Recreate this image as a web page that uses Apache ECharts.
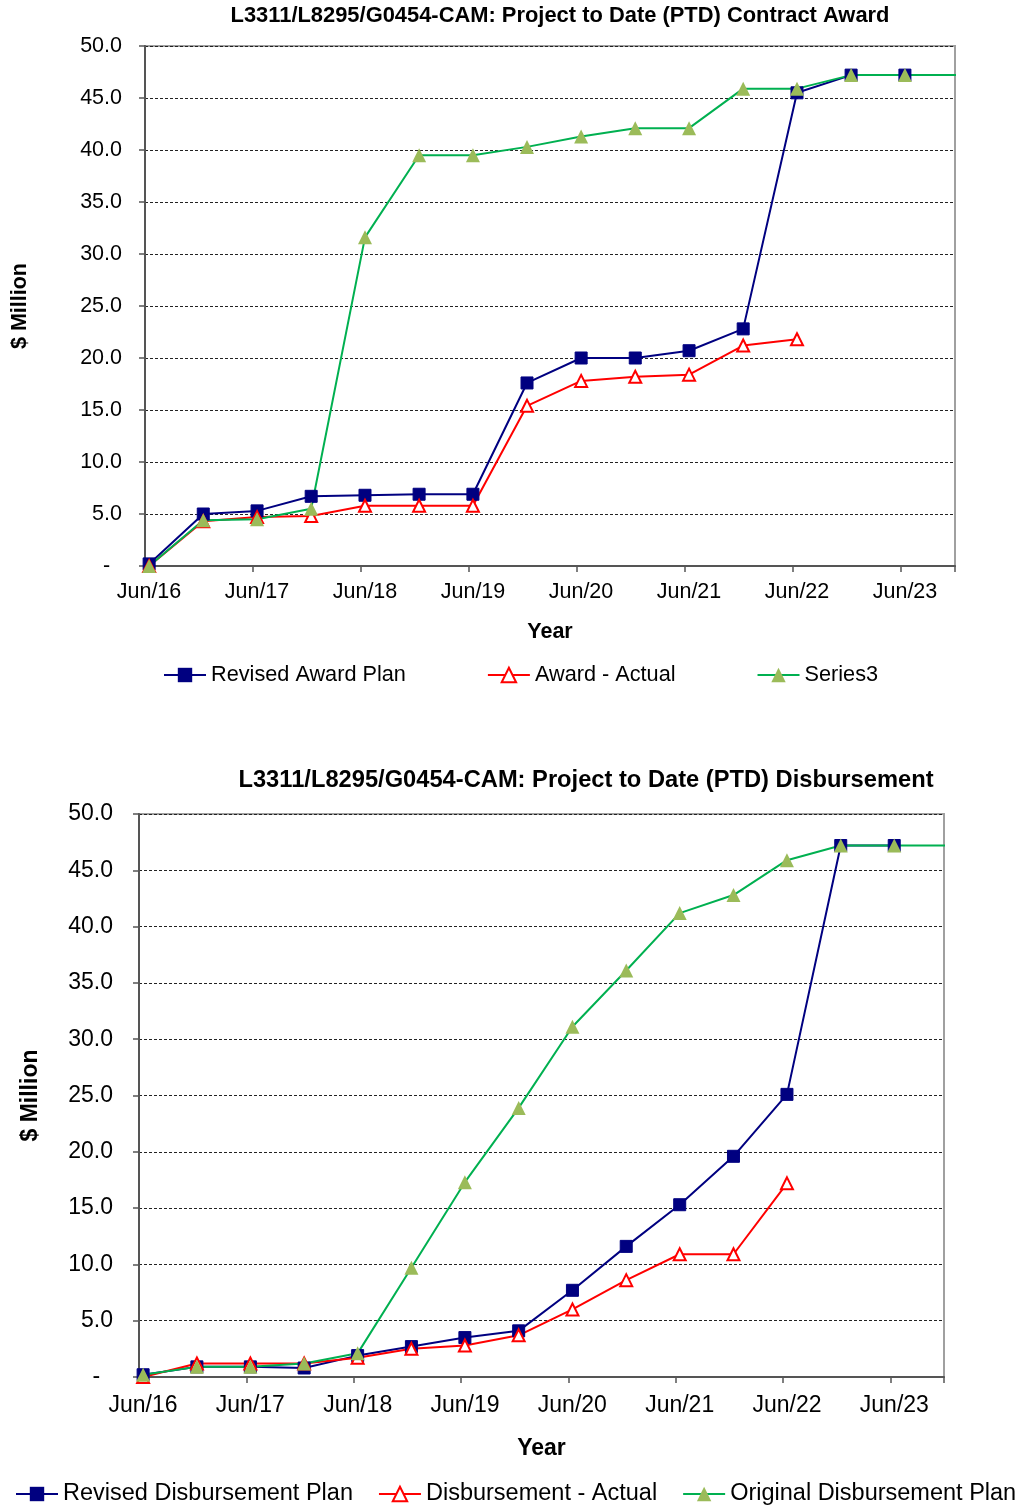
<!DOCTYPE html>
<html>
<head>
<meta charset="utf-8">
<script src="https://cdn.jsdelivr.net/npm/echarts@6/dist/echarts.min.js"></script>
<style>
html,body{margin:0;padding:0;background:#fff;}
#chart{width:1024px;height:1506px;}
</style>
</head>
<body>
<div id="chart"></div>
<script>
// Reporting dates (semi-annual); axis starts at Jun 2016
const dates = ['2016-06-15','2016-12-15','2017-06-15','2017-12-15','2018-06-15','2018-12-15','2019-06-15','2019-12-15','2020-06-15','2020-12-15','2021-06-15','2021-12-15','2022-06-15','2022-12-15','2023-06-15','2023-12-15'];
const tickYears = [16,17,18,19,20,21,22,23];

// Chart 1: Contract Award ($ Million)
const revisedAwardPlan = [0.2,5.0,5.3,6.7,6.8,6.9,6.9,17.6,20.0,20.0,20.7,22.8,45.5,47.2,47.2,null];
const awardActual      = [0.0,4.3,4.7,4.8,5.8,5.8,5.8,15.4,17.8,18.2,18.4,21.2,21.8,null,null,null];
const series3          = [0.0,4.4,4.5,5.5,31.6,39.5,39.5,40.3,41.3,42.1,42.1,45.9,45.9,47.2,47.2,47.2];

// Chart 2: Disbursement ($ Million)
const revisedDisbPlan  = [0.2,0.9,0.9,0.8,1.9,2.7,3.5,4.1,7.7,11.6,15.3,19.6,25.1,47.2,47.2,null];
const disbActual       = [0.0,1.2,1.2,1.2,1.7,2.5,2.8,3.7,6.0,8.6,10.9,10.9,17.2,null,null,null];
const origDisbPlan     = [0.2,0.9,0.9,1.2,2.1,9.7,17.3,23.9,31.1,36.1,41.2,42.8,45.9,47.2,47.2,47.2];

const t0 = Date.parse('2016-06-01');
const yr = 365.25 * 86400000;
const xs = dates.map(d => (Date.parse(d) - t0) / yr);
const pair = arr => arr.map((v, i) => [xs[i], v]);

const FONT = '"Liberation Sans", Arial, sans-serif';
const NAVY = '#000080', RED = '#FF0000', GREEN = '#00B050', OLIVE = '#9BBB59';

function xAxisCfg(gi, fs, margin, nameGap) {
  return {
    type: 'value', gridIndex: gi, min: 0, max: 7.5, interval: 1,
    name: 'Year', nameLocation: 'middle', nameGap: nameGap,
    nameTextStyle: {fontFamily: FONT, fontSize: fs, fontWeight: 'bold', color: '#000'},
    axisLine: {show: true, onZero: false, lineStyle: {color: '#555', width: 2}},
    axisTick: {show: true, inside: false, length: 6, lineStyle: {color: '#555', width: 1.5}},
    axisLabel: {fontFamily: FONT, fontSize: fs, color: '#000', margin: margin,
      padding: [0, 0, 0, 8],
      formatter: v => (Math.abs(v - Math.round(v)) < 1e-6 ? 'Jun/' + tickYears[Math.round(v)] : '')},
    splitLine: {show: false}
  };
}
function yAxisCfg(gi, fs, margin, nameGap) {
  return {
    type: 'value', gridIndex: gi, min: 0, max: 50, interval: 5,
    name: '$ Million', nameLocation: 'middle', nameGap: nameGap, nameRotate: 90,
    nameTextStyle: {fontFamily: FONT, fontSize: fs, fontWeight: 'bold', color: '#000'},
    axisLine: {show: true, lineStyle: {color: '#555', width: 2}},
    axisTick: {show: true, inside: false, length: 6, lineStyle: {color: '#555', width: 1.5}},
    axisLabel: {fontFamily: FONT, fontSize: fs, color: '#000', margin: margin,
      formatter: v => (v === 0 ? '-  ' : v.toFixed(1))},
    splitLine: {show: true, lineStyle: {color: '#222', width: 1, type: [3, 2]}}
  };
}
function lineSeries(name, data, gi, kind) {
  const base = {
    name: name, type: 'line', data: pair(data), xAxisIndex: gi, yAxisIndex: gi,
    connectNulls: false, clip: true, animation: false, showAllSymbol: true
  };
  if (kind === 'blue') {
    return Object.assign(base, {symbol: 'rect', symbolSize: 12,
      lineStyle: {color: NAVY, width: 2}, itemStyle: {color: NAVY, borderColor: NAVY}});
  }
  if (kind === 'red') {
    return Object.assign(base, {symbol: 'triangle', symbolSize: 12,
      lineStyle: {color: RED, width: 2}, itemStyle: {color: '#fff', borderColor: RED, borderWidth: 2}});
  }
  return Object.assign(base, {symbol: 'triangle', symbolSize: 14,
    lineStyle: {color: GREEN, width: 2}, itemStyle: {color: OLIVE, borderColor: OLIVE, borderWidth: 0}});
}

const chart = echarts.init(document.getElementById('chart'), null, {renderer: 'canvas'});
chart.setOption({
  backgroundColor: '#fff',
  animation: false,
  title: [
    {text: 'L3311/L8295/G0454-CAM: Project to Date (PTD) Contract Award', left: 560, top: 5, textAlign: 'center', padding: 0,
     textStyle: {fontFamily: FONT, fontSize: 21.9, fontWeight: 'bold', color: '#000'}},
    {text: 'L3311/L8295/G0454-CAM: Project to Date (PTD) Disbursement', left: 586, top: 768, textAlign: 'center', padding: 0,
     textStyle: {fontFamily: FONT, fontSize: 23.7, fontWeight: 'bold', color: '#000'}}
  ],
  legend: [
    {data: ['Revised Award Plan', 'Award - Actual', 'Series3'], left: 163, top: 664, padding: 0,
     itemWidth: 42, itemHeight: 18, itemGap: 81, orient: 'horizontal',
     textStyle: {fontFamily: FONT, fontSize: 21.7, color: '#000'}},
    {data: ['Revised Disbursement Plan', 'Disbursement - Actual', 'Original Disbursement Plan'], left: 15, top: 1482, padding: 0,
     itemWidth: 42, itemHeight: 18, itemGap: 25, orient: 'horizontal', width: 1010,
     textStyle: {fontFamily: FONT, fontSize: 23.5, color: '#000'}}
  ],
  grid: [
    {left: 145, top: 46, width: 810, height: 520, show: true, borderColor: '#a0a0a0', borderWidth: 2, containLabel: false, outerBoundsMode: 'none'},
    {left: 139, top: 814, width: 805, height: 563, show: true, borderColor: '#a0a0a0', borderWidth: 2, containLabel: false, outerBoundsMode: 'none'}
  ],
  xAxis: [xAxisCfg(0, 21.5, 15, 55), xAxisCfg(1, 23, 17, 60)],
  yAxis: [yAxisCfg(0, 21.5, 23, 114), yAxisCfg(1, 23, 26, 97)],
  series: [
    lineSeries('Revised Award Plan', revisedAwardPlan, 0, 'blue'),
    lineSeries('Award - Actual', awardActual, 0, 'red'),
    lineSeries('Series3', series3, 0, 'green'),
    lineSeries('Revised Disbursement Plan', revisedDisbPlan, 1, 'blue'),
    lineSeries('Disbursement - Actual', disbActual, 1, 'red'),
    lineSeries('Original Disbursement Plan', origDisbPlan, 1, 'green')
  ]
});
</script>
</body>
</html>
